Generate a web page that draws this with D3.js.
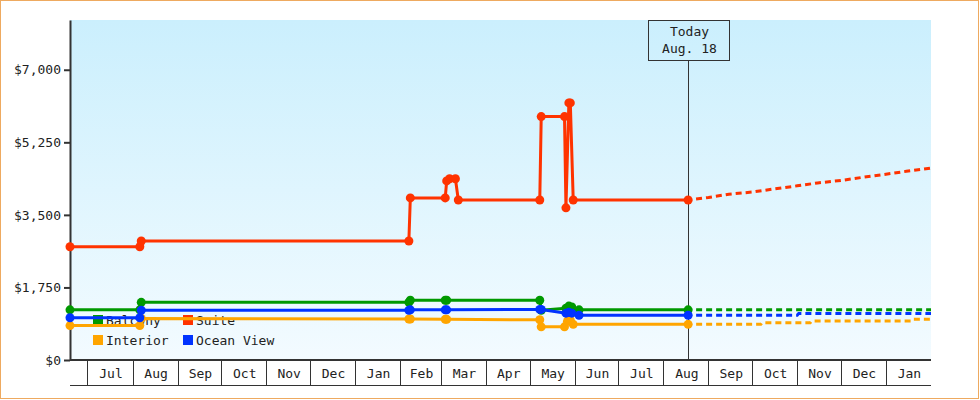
<!DOCTYPE html>
<html>
<head>
<meta charset="utf-8">
<script src="https://cdn.jsdelivr.net/npm/d3@7.9.0/dist/d3.min.js"></script>
<style>
  body { margin: 0; background: #fff; }
  svg { display: block; font-family: "DejaVu Sans Mono", monospace; font-size: 13px; }
</style>
</head>
<body>
<svg width="980" height="400"></svg>
<script>
// series names / colours, legend order
const categories = ['Balcony', 'Suite', 'Interior', 'Ocean View'];
const colors = ['#009900', '#ff3300', '#ffa500', '#0033ff'];
const yTicks = [0, 1750, 3500, 5250, 7000];
const dateRange = ['2012-06-19', '2014-02-01'];
const todayDate = '2013-08-18';
const todayLabel = ['Today', 'Aug. 18'];

// price history [date, price]
const balconyPrices = [
  ['2012-06-19', 1210], ['2012-08-06', 1210], ['2012-08-07', 1390],
  ['2013-02-07', 1390], ['2013-02-08', 1440], ['2013-03-04', 1440],
  ['2013-03-05', 1440], ['2013-05-08', 1440], ['2013-05-09', 1200],
  ['2013-05-26', 1250], ['2013-05-28', 1300], ['2013-05-30', 1280],
  ['2013-06-04', 1210], ['2013-08-18', 1210]
];
const suitePrices = [
  ['2012-06-19', 2730], ['2012-08-06', 2730], ['2012-08-07', 2870],
  ['2013-02-07', 2870], ['2013-02-08', 3910], ['2013-03-04', 3910],
  ['2013-03-05', 4320], ['2013-03-07', 4370], ['2013-03-11', 4370],
  ['2013-03-13', 3860], ['2013-05-08', 3860], ['2013-05-09', 5870],
  ['2013-05-25', 5870], ['2013-05-26', 3670], ['2013-05-28', 6200],
  ['2013-05-29', 6200], ['2013-05-31', 3860], ['2013-08-18', 3860]
];
const interiorPrices = [
  ['2012-06-19', 830], ['2012-08-06', 830], ['2012-08-07', 1000],
  ['2013-02-07', 990], ['2013-02-08', 990], ['2013-03-04', 980],
  ['2013-03-05', 980], ['2013-05-08', 970], ['2013-05-09', 800],
  ['2013-05-25', 800], ['2013-05-27', 930], ['2013-05-28', 990],
  ['2013-05-29', 960], ['2013-05-31', 860], ['2013-08-18', 860]
];
const oceanViewPrices = [
  ['2012-06-19', 1020], ['2012-08-06', 1020], ['2012-08-07', 1200],
  ['2013-02-07', 1200], ['2013-02-08', 1210], ['2013-03-04', 1210],
  ['2013-03-05', 1210], ['2013-05-08', 1220], ['2013-05-09', 1220],
  ['2013-05-26', 1130], ['2013-05-28', 1150], ['2013-05-30', 1130],
  ['2013-06-04', 1080], ['2013-08-18', 1080]
];

// forecast after today (dashed)
const balconyForecast = [['2013-08-18', 1210], ['2014-02-01', 1210]];
const suiteForecast = [
  ['2013-08-18', 3860], ['2013-09-01', 3920], ['2013-09-15', 4000],
  ['2013-10-01', 4050], ['2013-10-15', 4120], ['2013-11-01', 4200],
  ['2013-11-15', 4270], ['2013-12-01', 4330], ['2013-12-15', 4400],
  ['2014-01-01', 4480], ['2014-01-15', 4550], ['2014-02-01', 4630]
];
const interiorForecast = [
  ['2013-08-18', 860], ['2013-10-07', 860], ['2013-10-08', 900],
  ['2013-11-10', 900], ['2013-11-11', 940], ['2014-01-18', 940],
  ['2014-01-19', 980], ['2014-02-01', 980]
];
const oceanViewForecast = [
  ['2013-08-18', 1080], ['2013-11-01', 1080], ['2013-11-02', 1120],
  ['2014-02-01', 1120]
];

const history = [balconyPrices, suitePrices, interiorPrices, oceanViewPrices];
const forecast = [balconyForecast, suiteForecast, interiorForecast, oceanViewForecast];
const drawOrder = [2, 0, 3, 1]; // interior under, suite on top

const parse = d3.timeParse('%Y-%m-%d');
const plotLeft = 70, plotRight = 931, plotTop = 20, plotBottom = 360;

const svg = d3.select('svg');

const x = d3.scaleTime().domain(dateRange.map(parse)).range([plotLeft, plotRight]);
const y = d3.scaleLinear().domain([0, 8200]).range([plotBottom, plotTop]);

// outer border
svg.append('rect')
  .attr('x', 0.5).attr('y', 0.5).attr('width', 978).attr('height', 398)
  .attr('fill', '#fff').attr('stroke', '#eeaa60');

// plot background
const grad = svg.append('defs').append('linearGradient')
  .attr('id', 'bg').attr('x1', 0).attr('y1', 0).attr('x2', 0).attr('y2', 1);
grad.append('stop').attr('offset', '0%').attr('stop-color', '#cbeffd');
grad.append('stop').attr('offset', '100%').attr('stop-color', '#f3fbff');

svg.append('rect')
  .attr('x', plotLeft).attr('y', plotTop)
  .attr('width', plotRight - plotLeft).attr('height', plotBottom - plotTop)
  .attr('fill', 'url(#bg)');

// legend (lines are drawn over it)
const legend = svg.append('g');
categories.forEach((name, i) => {
  let lx = 93 + (i % 2) * 90;
  let ly = 315 + Math.floor(i / 2) * 20;
  legend.append('rect')
    .attr('x', lx).attr('y', ly).attr('width', 10).attr('height', 10)
    .attr('fill', colors[i]);
  legend.append('text')
    .attr('x', lx + 13).attr('y', ly + 9.5)
    .attr('fill', '#222')
    .text(name);
});

// y axis
const yAxis = svg.append('g')
  .attr('transform', `translate(${plotLeft},0)`)
  .call(d3.axisLeft(y).tickValues(yTicks).tickFormat(d3.format('$,'))
    .tickSize(6).tickSizeOuter(0).tickPadding(3));
yAxis.select('.domain').attr('stroke', '#333').attr('stroke-width', 2);
yAxis.selectAll('.tick line').attr('stroke', '#333').attr('stroke-width', 2);
yAxis.selectAll('.tick text')
  .attr('fill', '#222')
  .style('font-family', '"DejaVu Sans Mono", monospace').style('font-size', '13px');

// x axis: boxed month labels
const months = d3.timeMonth.range(d3.timeMonth.ceil(x.domain()[0]), x.domain()[1]);
const xAxis = svg.append('g').attr('shape-rendering', 'crispEdges');
xAxis.append('line')
  .attr('x1', plotLeft).attr('x2', plotRight).attr('y1', plotBottom).attr('y2', plotBottom)
  .attr('stroke', '#333').attr('stroke-width', 2);
xAxis.append('line')
  .attr('x1', plotLeft).attr('x2', plotRight)
  .attr('y1', plotBottom + 25).attr('y2', plotBottom + 25)
  .attr('stroke', '#333');
xAxis.selectAll('.sep')
  .data(months)
  .join('line')
  .attr('class', 'sep')
  .attr('x1', d => Math.round(x(d)) + 0.5).attr('x2', d => Math.round(x(d)) + 0.5)
  .attr('y1', plotBottom).attr('y2', plotBottom + 25)
  .attr('stroke', '#333');
xAxis.selectAll('.mlabel')
  .data(months.filter(d => d3.timeMonth.offset(d, 1) <= x.domain()[1]))
  .join('text')
  .attr('class', 'mlabel')
  .attr('x', d => (x(d) + x(d3.timeMonth.offset(d, 1))) / 2 + 1)
  .attr('y', plotBottom + 18)
  .attr('text-anchor', 'middle')
  .attr('fill', '#222')
  .text(d3.timeFormat('%b'));

// today marker
const tx = Math.round(x(parse(todayDate))) + 0.5;
svg.append('line')
  .attr('x1', tx).attr('x2', tx).attr('y1', 60).attr('y2', plotBottom)
  .attr('stroke', '#333').attr('shape-rendering', 'crispEdges');
svg.append('rect')
  .attr('x', tx - 40).attr('y', 20.5).attr('width', 81).attr('height', 40)
  .attr('fill', 'none').attr('stroke', '#333').attr('shape-rendering', 'crispEdges');
todayLabel.forEach((t, i) => {
  svg.append('text')
    .attr('x', tx + 1).attr('y', 36 + i * 17)
    .attr('text-anchor', 'middle')
    .attr('fill', '#222')
    .text(t);
});

const line = d3.line()
  .x(d => x(parse(d[0])))
  .y(d => y(d[1]));

// dashed forecasts
drawOrder.forEach(i => {
  svg.append('path')
    .attr('d', line(forecast[i]))
    .attr('fill', 'none')
    .attr('stroke', colors[i])
    .attr('stroke-width', 3)
    .attr('stroke-dasharray', '6,4')
    .attr('stroke-dashoffset', -8);
});

// price history with markers
drawOrder.forEach(i => {
  let g = svg.append('g');
  g.append('path')
    .attr('d', line(history[i]))
    .attr('fill', 'none')
    .attr('stroke', colors[i])
    .attr('stroke-width', 3);
  g.selectAll('circle')
    .data(history[i])
    .join('circle')
    .attr('cx', d => x(parse(d[0])))
    .attr('cy', d => y(d[1]))
    .attr('r', 4.5)
    .attr('fill', colors[i]);
});
</script>
</body>
</html>
